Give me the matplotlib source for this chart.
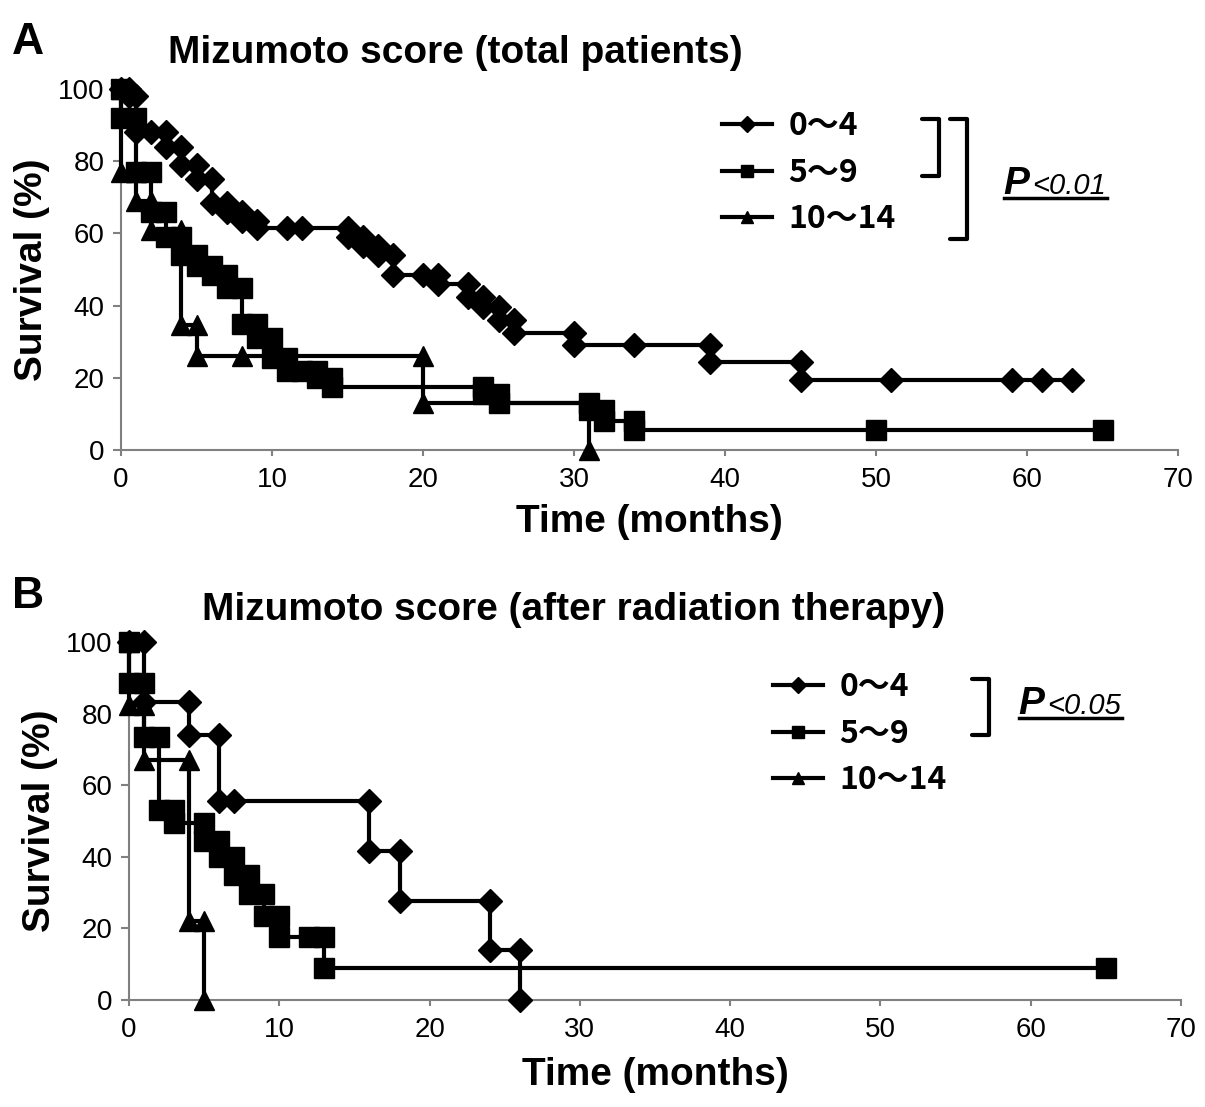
import matplotlib
matplotlib.use('Agg')
import matplotlib.pyplot as plt
from matplotlib.lines import Line2D

plt.rcParams['font.family'] = ['Liberation Sans', 'DejaVu Sans']

# panel A: Kaplan-Meier step vertices (months, survival %)
a_t_low = [0, 0.5, 0.5, 1, 1, 2, 3, 3, 4, 4, 5, 5, 6, 6, 7, 7, 8, 8, 9, 9, 11, 12,
           15, 15, 16, 16, 17, 17, 18, 18, 20, 21, 21, 23, 23, 24, 24, 25, 25, 26, 26,
           30, 30, 34, 39, 39, 45, 45, 51, 59, 61, 63]
a_s_low = [100, 100, 98, 98, 88, 88, 88, 84, 84, 79, 79, 75, 75, 68.5, 68.5, 66, 66, 63.5, 63.5, 61.5, 61.5, 61.5,
           61.5, 59, 59, 56.5, 56.5, 54, 54, 48.5, 48.5, 48.5, 46, 46, 42.5, 42.5, 39.5, 39.5, 36, 36, 32.5,
           32.5, 29, 29, 29, 24.5, 24.5, 19.5, 19.5, 19.5, 19.5, 19.5]
a_t_mid = [0, 0, 1, 1, 2, 2, 3, 3, 4, 4, 5, 5, 6, 6, 7, 7, 8, 8, 9, 9, 10, 10, 11, 11, 12, 13, 13, 14, 14,
           24, 24, 25, 25, 31, 31, 32, 32, 34, 34, 50, 65]
a_s_mid = [100, 92, 92, 77, 77, 66, 66, 59, 59, 54, 54, 51, 51, 48.5, 48.5, 45, 45, 35, 35, 31, 31, 25.5, 25.5, 22, 22, 22, 20, 20, 17.5,
           17.5, 15.5, 15.5, 13, 13, 11, 11, 8, 8, 5.5, 5.5, 5.5]
a_t_high = [0, 0, 1, 1, 2, 2, 4, 4, 5, 5, 8, 20, 20, 31, 31]
a_s_high = [100, 77, 77, 69, 69, 61, 61, 34.5, 34.5, 26, 26, 26, 13, 13, 0]

# panel B: after radiation therapy
b_t_low = [0, 1, 1, 4, 4, 6, 6, 7, 16, 16, 18, 18, 24, 24, 26, 26]
b_s_low = [100, 100, 83.3, 83.3, 74, 74, 55.5, 55.5, 55.5, 41.5, 41.5, 27.7, 27.7, 13.9, 13.9, 0]
b_t_mid = [0, 0, 1, 1, 2, 2, 3, 3, 5, 5, 6, 6, 7, 7, 8, 8, 9, 9, 10, 10, 12, 13, 13, 65]
b_s_mid = [100, 88.5, 88.5, 73.5, 73.5, 53, 53, 49.5, 49.5, 44.5, 44.5, 40, 40, 35, 35, 29.5, 29.5, 23.5, 23.5, 17.7,
           17.7, 17.7, 8.8, 8.8]
b_t_high = [0, 0, 1, 1, 4, 4, 5, 5]
b_s_high = [100, 82.4, 82.4, 67, 67, 22, 22, 0]

group_labels = ['0～4', '5～9', '10～14']
group_markers = ['D', 's', '^']
marker_sizes = [12, 14, 14]
x_ticks = [0, 10, 20, 30, 40, 50, 60, 70]
y_ticks = [0, 20, 40, 60, 80, 100]

W, H = 1205, 1107
fig = plt.figure(figsize=(W / 100, H / 100), dpi=100)


def fx(px):
    return px / W


def fy(py):
    return 1 - py / H


def setup(ax, title, tx, tpad, xpad):
    ax.set_xlim(0, 70)
    ax.set_ylim(0, 100)
    ax.set_xticks(x_ticks)
    ax.set_yticks(y_ticks)
    for s in ['top', 'right']:
        ax.spines[s].set_visible(False)
    for s in ['left', 'bottom']:
        ax.spines[s].set_color('#808080')
        ax.spines[s].set_linewidth(1.5)
    ax.tick_params(direction='out', width=1.5, color='#808080', labelsize=20)
    ax.tick_params(axis='y', length=6, pad=6)
    ax.tick_params(axis='x', length=4, pad=8.5)
    ax.set_xlabel('Time (months)', fontsize=28, fontweight='bold', labelpad=xpad)
    ax.set_ylabel('Survival (%)', fontsize=28, fontweight='bold', labelpad=6)
    ax.set_title(title, fontsize=28, fontweight='bold', pad=tpad, x=tx)
    ax.patch.set_alpha(0)


def draw(ax, series):
    for (t, s), m, lab, size in zip(series, group_markers, group_labels, marker_sizes):
        ax.plot(t, s, color='black', lw=3, marker=m, ms=size,
                label=lab, clip_on=False, zorder=3)


def legend(ax, x, y):
    ax.legend(loc='upper left', bbox_to_anchor=(fx(x), fy(y)),
              bbox_transform=fig.transFigure, frameon=False,
              prop={'family': ['Noto Sans CJK JP'], 'size': 23, 'weight': 'bold'},
              handlelength=1.57, handletextpad=0.5, labelspacing=0.46,
              markerscale=0.65, borderpad=0, borderaxespad=0)


def bracket(x, y0, y1, w=17):
    fig.add_artist(Line2D([fx(x - w), fx(x), fx(x), fx(x - w)],
                          [fy(y0), fy(y0), fy(y1), fy(y1)],
                          color='black', lw=3, solid_capstyle='round',
                          solid_joinstyle='round'))


def pval(x, y, txt):
    fig.text(fx(x), fy(y), 'P', fontsize=28, fontweight='bold', style='italic',
             va='baseline', ha='left')
    fig.text(fx(x + 29), fy(y), txt, fontsize=21, style='italic',
             va='baseline', ha='left')
    fig.add_artist(Line2D([fx(x + 1), fx(x + 104)], [fy(y + 4), fy(y + 4)],
                          color='black', lw=2.5))


# panel A
axA = fig.add_axes([fx(121), fy(450), fx(1178) - fx(121), fy(89) - fy(450)])
setup(axA, 'Mizumoto score (total patients)', 0.316, 19, 8)
draw(axA, [(a_t_low, a_s_low), (a_t_mid, a_s_mid), (a_t_high, a_s_high)])
legend(axA, 722, 110)
bracket(939, 119, 176)
bracket(967, 119, 239)
pval(1003, 194, '<0.01')

# panel B
axB = fig.add_axes([fx(129), fy(1000), fx(1181) - fx(129), fy(642) - fy(1000)])
setup(axB, 'Mizumoto score (after radiation therapy)', 0.423, 16, 10)
draw(axB, [(b_t_low, b_s_low), (b_t_mid, b_s_mid), (b_t_high, b_s_high)])
legend(axB, 773, 671)
bracket(989, 679, 735)
pval(1018, 714, '<0.05')

fig.text(fx(12), fy(42), 'A', fontsize=32, fontweight='bold', va='center')
fig.text(fx(12), fy(597), 'B', fontsize=32, fontweight='bold', va='center')

fig.savefig('out.png', dpi=100)
